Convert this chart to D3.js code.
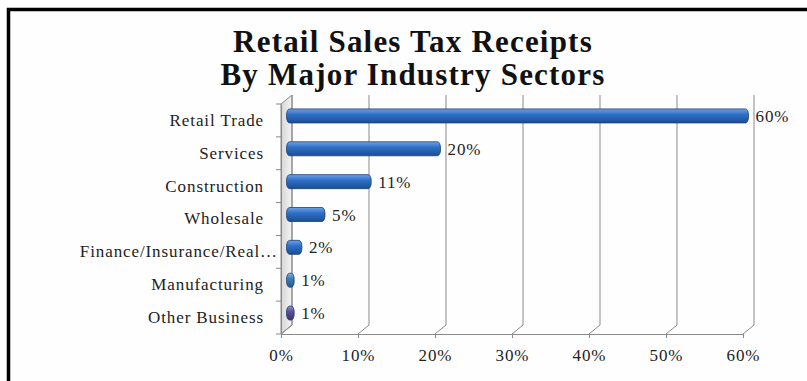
<!DOCTYPE html>
<html>
<head>
<meta charset="utf-8">
<script src="https://cdn.jsdelivr.net/npm/d3@7"></script>
<style>
  html, body { margin: 0; padding: 0; background: #ffffff; }
  svg { display: block; }
</style>
</head>
<body>
<svg id="chart" width="807" height="381"></svg>
<script>
// Retail sales tax receipts by major industry sector (share of total)
const categories = ["Retail Trade", "Services", "Construction", "Wholesale",
  "Finance/Insurance/Real\u2026", "Manufacturing", "Other Business"];
const shares = [60, 20, 11, 5, 2, 1, 1];
const valueLabels = ["60%", "20%", "11%", "5%", "2%", "1%", "1%"];
const tickValues = [0, 10, 20, 30, 40, 50, 60];
const tickLabels = ["0%", "10%", "20%", "30%", "40%", "50%", "60%"];
const titleLines = ["Retail Sales Tax Receipts", "By Major Industry Sectors"];

const svg = d3.select("#chart");
const serif = "'Liberation Serif', 'DejaVu Serif', serif";
const labelSize = 17, labelSpacing = 0.9;

// frame around the chart
svg.append("rect").attr("x", 8.5).attr("y", 9.5).attr("width", 810).attr("height", 390)
  .attr("fill", "#fefefe").attr("stroke", "#000").attr("stroke-width", 3.5);

// title
svg.append("g").selectAll("text").data(titleLines).join("text")
  .attr("x", 413).attr("y", (d, i) => 52 + i * 33)
  .attr("text-anchor", "middle")
  .attr("font-family", serif).attr("font-weight", "bold").attr("font-size", 31)
  .attr("letter-spacing", 1.2)
  .attr("fill", "#111").text(d => d);

// plot geometry (front plane) and depth offset of the 3-D box
const x = d3.scaleLinear().domain([0, 60]).range([281, 743]);
const y = d3.scaleBand().domain(categories).range([104, 334]);
const dx = 11, dy = -9;

const defs = svg.append("defs");
const grid = svg.append("g");

// shaded left wall
const wallGrad = defs.append("linearGradient").attr("id", "wall")
  .attr("x1", 0).attr("y1", 0).attr("x2", 1).attr("y2", 0);
wallGrad.append("stop").attr("offset", "0%").attr("stop-color", "#d6d6d6");
wallGrad.append("stop").attr("offset", "100%").attr("stop-color", "#f4f4f4");
grid.append("path")
  .attr("d", `M${x(0)},${y.range()[0]} L${x(0) + dx},${y.range()[0] + dy} L${x(0) + dx},${334 + dy} L${x(0)},334 Z`)
  .attr("fill", "url(#wall)").attr("stroke", "#8a8a8a").attr("stroke-width", 1);

// back-wall gridlines with floor connectors
tickValues.forEach(v => {
  grid.append("line")
    .attr("x1", x(v) + dx).attr("x2", x(v) + dx)
    .attr("y1", y.range()[0] + dy).attr("y2", 334 + dy)
    .attr("stroke", "#8a8a8a").attr("stroke-width", 1);
  grid.append("line")
    .attr("x1", x(v)).attr("y1", 334).attr("x2", x(v) + dx).attr("y2", 334 + dy)
    .attr("stroke", "#8a8a8a").attr("stroke-width", 1);
});

// floor front edge and value axis
const xAxis = d3.axisBottom(x).tickValues(tickValues)
  .tickFormat((d, i) => tickLabels[i]).tickSize(4).tickPadding(11);
const gx = svg.append("g").attr("transform", "translate(0,334)").call(xAxis);
gx.select(".domain").attr("stroke", "#8a8a8a");
gx.selectAll(".tick line").attr("stroke", "#8a8a8a");
gx.selectAll(".tick text").attr("font-family", serif).attr("font-size", labelSize)
  .attr("letter-spacing", labelSpacing).attr("fill", "#222");

// category axis on the front edge of the left wall
const yAxis = d3.axisLeft(y).tickSize(0).tickPadding(17);
const gy = svg.append("g").attr("transform", `translate(${x(0)},0)`).call(yAxis);
gy.select(".domain").attr("stroke", "#8a8a8a");
gy.selectAll(".tick text").attr("font-family", serif).attr("font-size", labelSize)
  .attr("letter-spacing", labelSpacing).attr("fill", "#222");
// the truncated label runs up to the wall
gy.selectAll(".tick text").filter(d => d.endsWith("\u2026")).attr("x", -3);
// category separator ticks
const bounds = categories.map(c => y(c)).concat([y.range()[1]]);
svg.append("g").selectAll("line").data(bounds).join("line")
  .attr("x1", x(0) - 5).attr("x2", x(0)).attr("y1", d => d).attr("y2", d => d)
  .attr("stroke", "#8a8a8a");

// bar gradients
const palettes = [
  ["#6da3e6", "#2f6fc6", "#1b4d94"],
  ["#6da3e6", "#2f6fc6", "#1b4d94"],
  ["#6da3e6", "#2f6fc6", "#1b4d94"],
  ["#6da3e6", "#2f6fc6", "#1b4d94"],
  ["#6da3e6", "#2f6fc6", "#1b4d94"],
  ["#7fb6e0", "#3a7cb8", "#245a8c"],
  ["#9a8cc8", "#5d4f98", "#3c3270"]
];
palettes.forEach((p, i) => {
  const g = defs.append("linearGradient").attr("id", "bar" + i)
    .attr("x1", 0).attr("y1", 0).attr("x2", 0).attr("y2", 1);
  g.append("stop").attr("offset", "0%").attr("stop-color", p[0]);
  g.append("stop").attr("offset", "40%").attr("stop-color", p[1]);
  g.append("stop").attr("offset", "100%").attr("stop-color", p[2]);
});

// bars sit halfway into the depth of the box
const bh = 14;
const ox = dx / 2, oy = dy / 2;
const bars = svg.append("g");
bars.selectAll("rect").data(categories).join("rect")
  .attr("x", x(0) + ox)
  .attr("y", d => y(d) + y.bandwidth() / 2 + oy - bh / 2)
  .attr("width", (d, i) => x(shares[i]) - x(0))
  .attr("height", bh)
  .attr("rx", 3).attr("ry", 6)
  .attr("fill", (d, i) => `url(#bar${i})`)
  .attr("stroke", "#1d3f72").attr("stroke-width", 0.8);

// value labels
svg.append("g").selectAll("text").data(categories).join("text")
  .attr("x", (d, i) => x(shares[i]) + ox + 7)
  .attr("y", d => y(d) + y.bandwidth() / 2 + oy + 6)
  .attr("font-family", serif).attr("font-size", labelSize)
  .attr("letter-spacing", labelSpacing).attr("fill", "#222")
  .text((d, i) => valueLabels[i]);
</script>
</body>
</html>
